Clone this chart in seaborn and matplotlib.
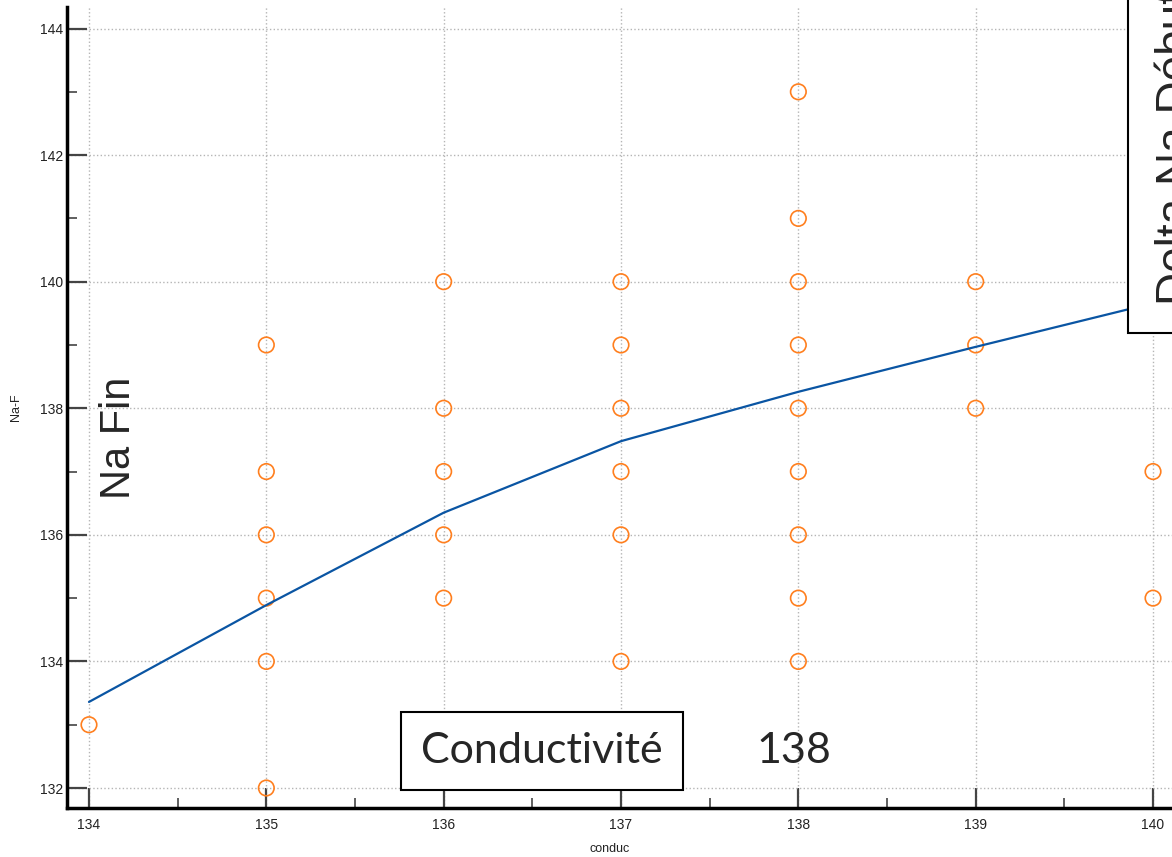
import matplotlib
matplotlib.use("Agg")
import matplotlib.pyplot as plt
import seaborn as sns
import pandas as pd
from matplotlib.ticker import MultipleLocator

# ---- data ----
conduc = [134,
          135, 135, 135, 135, 135, 135,
          136, 136, 136, 136, 136,
          137, 137, 137, 137, 137, 137,
          138, 138, 138, 138, 138, 138, 138, 138, 138,
          139, 139, 139,
          140, 140]
na_f = [133,
        139, 137, 136, 135, 134, 132,
        140, 138, 137, 136, 135,
        140, 139, 138, 137, 136, 134,
        143, 141, 140, 139, 138, 137, 136, 135, 134,
        140, 139, 138,
        137, 135]
fit_x = [134, 135, 136, 137, 138, 139, 140]
fit_y = [133.36, 134.89, 136.35, 137.48, 138.26, 138.97, 139.66]
x_ticks = [134, 135, 136, 137, 138, 139, 140]
y_ticks = [132, 134, 136, 138, 140, 142, 144]

df = pd.DataFrame({"conduc": conduc, "Na-F": na_f})
fit = pd.DataFrame({"conduc": fit_x, "Na-F": fit_y})

sns.set_style("ticks")
plt.rcParams["font.family"] = ["Liberation Sans", "DejaVu Sans"]

fig = plt.figure(figsize=(11.72, 8.57), dpi=100)
ax = fig.add_axes([67 / 1172, 49 / 857, 1 - 67 / 1172, (808 - 7) / 857])

orange = "#ff7f1e"
blue = "#0a55a3"

sns.scatterplot(data=df, x="conduc", y="Na-F", ax=ax, marker="o", s=125,
                fc="none", ec=orange, linewidth=1.2, zorder=2)
sns.lineplot(data=fit, x="conduc", y="Na-F", ax=ax, color=blue,
             linewidth=1.6, zorder=3, estimator=None)

ax.set_xlim(133.876, 140.107)
ax.set_ylim(131.684, 144.34)
ax.set_xticks(x_ticks)
ax.set_yticks(y_ticks)
ax.xaxis.set_minor_locator(MultipleLocator(0.5))
ax.yaxis.set_minor_locator(MultipleLocator(1))

for s in ["top", "right"]:
    ax.spines[s].set_visible(False)
for s in ["left", "bottom"]:
    ax.spines[s].set_linewidth(2.5)
    ax.spines[s].set_color("black")

ax.tick_params(which="major", direction="in", length=14.5, width=1.6,
               color="#444444", labelsize=10, labelcolor="#222222")
ax.tick_params(which="minor", direction="in", length=7, width=1.2,
               color="#444444")
ax.tick_params(axis="x", which="major", pad=7)
ax.tick_params(axis="y", which="major", pad=3)

ax.grid(True, which="major", color="#b5b5b5", linestyle=":", linewidth=1.0)
ax.set_axisbelow(True)

ax.set_xlabel("conduc", fontsize=9, color="#222222")
ax.set_ylabel("Na-F", fontsize=9, color="#222222")
ax.xaxis.set_label_coords((610 - 67) / (1172 - 67), -0.044)
ax.yaxis.set_label_coords(-0.0405, 0.5)

# overlaid annotations (figure pixel coordinates)
def fx(px):
    return px / 1172

def fy(py):
    return 1 - py / 857

fig.text(fx(542), fy(751), "Conductivité", fontsize=31, family=["Lato", "DejaVu Sans"],
         ha="center", va="center", zorder=10,
         bbox=dict(boxstyle="square,pad=0.47", fc="white", ec="black", lw=1.5))
fig.text(fx(794), fy(751), "138", fontsize=31, family=["Lato", "DejaVu Sans"],
         ha="center", va="center", zorder=10)
fig.text(fx(119), fy(438), "Na Fin", fontsize=30,
         family=["Liberation Sans", "DejaVu Sans"],
         rotation=90, ha="center", va="center", zorder=10)
fig.text(fx(1199), fy(305), "Delta Na Début", fontsize=33,
         family=["Liberation Sans", "DejaVu Sans"],
         rotation=90, rotation_mode="anchor", ha="left", va="bottom", zorder=10,
         bbox=dict(boxstyle="square,pad=0.6", fc="white", ec="black", lw=1.5))

fig.savefig("out.png", dpi=100)
